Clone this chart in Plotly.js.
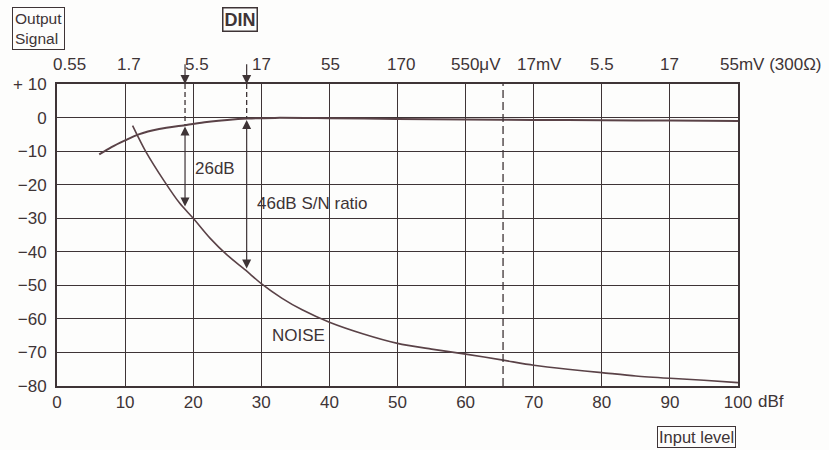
<!DOCTYPE html>
<html>
<head>
<meta charset="utf-8">
<script src="https://cdn.plot.ly/plotly-3.0.1.min.js"></script>
<style>
  html, body { margin: 0; padding: 0; background: #fdfdfc; }
  #chart { width: 829px; height: 450px; }
</style>
</head>
<body>
<div id="chart"></div>
<script>
// ---- Data ----
const signalX = [6.2, 8, 10, 12, 15, 19, 22, 25, 28, 32, 40, 50, 60, 70, 80, 90, 100];
const signalY = [-11, -8.8, -6.8, -5, -3.4, -2.2, -1.3, -0.7, -0.3, -0.1, -0.2, -0.4, -0.6, -0.7, -0.8, -0.9, -1];

const noiseX = [11.1, 13, 15.7, 18, 20, 22.5, 25, 27.7, 30, 33, 36, 40, 45, 50, 55, 60, 65.5, 70, 75, 80, 85, 90, 95, 100];
const noiseY = [-2.4, -10, -18.8, -25.5, -30, -36, -41, -45.5, -49.5, -53.8, -57.3, -61, -64.5, -67.3, -69, -70.5, -72.3, -73.8, -75, -76, -77, -77.7, -78.3, -79];

// Bottom axis (dBf) ticks
const dbfTicks = [0, 10, 20, 30, 40, 50, 60, 70, 80, 90, 100];
const dbfLabels = ['0', '10', '20', '30', '40', '50', '60', '70', '80', '90', '100'];
// Top axis (antenna voltage) labels, at the same dBf positions
const voltTicks = [0, 10, 20, 30, 40, 50, 60, 70, 80, 90, 100];
const voltLabels = ['0.55', '1.7', '5.5', '17', '55', '170', '550\u03bcV', '17mV', '5.5', '17', '55mV (300\u03a9)'];
// Y axis
const yTicks = [-80, -70, -60, -50, -40, -30, -20, -10, 0, 10];
const yLabels = ['\u221280', '\u221270', '\u221260', '\u221250', '\u221240', '\u221230', '\u221220', '\u221210', '0', '+ 10'];

// Marked input levels (26 dB and 46 dB S/N points) and DIN dashed level
const markX = [18.8, 27.85];
const markSignal = [-2.2, -0.3];
const markNoise = [-26.5, -45];
const markText = ['26dB', '46dB S/N ratio'];
const markTextY = [-15.2, -25.6];
const dinLineX = [65.5];
const noiseLabel = {x: 35.4, y: -65, text: 'NOISE'};

// ---- Styles ----
const ink = '#3e3436';
const curve = '#5a4247';
const fam = 'Liberation Sans, Arial, sans-serif';
const font = {family: fam, size: 17, color: ink};

const traces = [
  {x: signalX, y: signalY, type: 'scatter', mode: 'lines',
   line: {color: curve, width: 2, shape: 'spline', smoothing: 0.8}, hoverinfo: 'skip'},
  {x: noiseX, y: noiseY, type: 'scatter', mode: 'lines',
   line: {color: curve, width: 1.6, shape: 'spline', smoothing: 0.8}, hoverinfo: 'skip'}
];

const annotations = [];
const shapes = [];

// top voltage labels
const topShift = [12, 4, 4, 0, 1, 3, 10, 6, 0, 0, -20];
voltTicks.forEach((v, i) => {
  annotations.push({x: v, y: 1, xref: 'x', yref: 'paper', yanchor: 'bottom', yshift: 8,
    xanchor: i === voltTicks.length - 1 ? 'left' : 'center', xshift: topShift[i],
    text: voltLabels[i], showarrow: false, font: font});
});
// "dBf" unit after 100
annotations.push({x: 100, y: 0, xref: 'x', yref: 'paper', xanchor: 'left', yanchor: 'top',
  xshift: 18, yshift: -4, text: 'dBf', showarrow: false, font: font});

markX.forEach((mx, i) => {
  // down arrow above plot
  annotations.push({x: mx, y: 10, xref: 'x', yref: 'y', ax: mx, ay: 16.3, axref: 'x', ayref: 'y',
    showarrow: true, arrowhead: 2, arrowsize: 1.5, arrowwidth: 1.2, arrowcolor: ink, text: ''});
  // double arrow from signal to noise
  annotations.push({x: mx, y: markNoise[i], xref: 'x', yref: 'y', ax: mx, ay: markSignal[i], axref: 'x', ayref: 'y',
    showarrow: true, arrowhead: 2, startarrowhead: 2, arrowside: 'end+start', arrowsize: 1.5, startarrowsize: 1.5,
    arrowwidth: 1.2, arrowcolor: ink, text: ''});
  // dashed segment from top to signal curve
  shapes.push({type: 'line', xref: 'x', yref: 'y', x0: mx, x1: mx, y0: 10, y1: markSignal[i],
    line: {color: ink, width: 1.3, dash: '5px,3px'}});
  // label
  annotations.push({x: mx, y: markTextY[i], xref: 'x', yref: 'y', xanchor: 'left', yanchor: 'middle', xshift: 8,
    text: markText[i], showarrow: false, font: font});
});

dinLineX.forEach(dx => {
  shapes.push({type: 'line', xref: 'x', yref: 'y', x0: dx, x1: dx, y0: -80, y1: 10,
    line: {color: ink, width: 1.3, dash: '8px,4px'}});
});

annotations.push({x: noiseLabel.x, y: noiseLabel.y, xref: 'x', yref: 'y', xanchor: 'center', yanchor: 'middle',
  text: noiseLabel.text, showarrow: false, font: font});

// Boxed labels
annotations.push({x: -0.0265, y: 1.185, xref: 'paper', yref: 'paper', xanchor: 'center', yanchor: 'middle',
  text: 'Output<br>Signal', showarrow: false, align: 'left', bordercolor: ink, borderwidth: 1, borderpad: 2,
  font: {family: fam, size: 15.5, color: ink}});
annotations.push({x: 0.269, y: 1.212, xref: 'paper', yref: 'paper', xanchor: 'center', yanchor: 'middle',
  text: '<b>DIN</b>', showarrow: false, bordercolor: ink, borderwidth: 1.5, borderpad: 1,
  font: {family: fam, size: 18, color: ink}});
annotations.push({x: 0.9395, y: -0.169, xref: 'paper', yref: 'paper', xanchor: 'center', yanchor: 'middle',
  text: 'Input level', showarrow: false, bordercolor: ink, borderwidth: 1, borderpad: 1,
  font: {family: fam, size: 16.5, color: ink}});

const layout = {
  width: 829, height: 450,
  margin: {l: 57, r: 91, t: 84, b: 64},
  paper_bgcolor: '#fdfdfc', plot_bgcolor: '#fdfdfc',
  showlegend: false,
  font: font,
  xaxis: {range: [0, 100], tickvals: dbfTicks, ticktext: dbfLabels, showgrid: true,
    gridcolor: ink, gridwidth: 1, showline: true, mirror: true, linecolor: ink, linewidth: 2,
    zeroline: false, ticks: '', ticklabelstandoff: 0, tickfont: font, fixedrange: true},
  yaxis: {range: [-80, 10], tickvals: yTicks, ticktext: yLabels, showgrid: true,
    gridcolor: ink, gridwidth: 1, showline: true, mirror: true, linecolor: ink, linewidth: 2,
    zeroline: false, ticks: '', ticklabelstandoff: 5, tickfont: font, fixedrange: true},
  annotations: annotations,
  shapes: shapes
};

Plotly.newPlot('chart', traces, layout, {staticPlot: true, displayModeBar: false});
</script>
</body>
</html>
